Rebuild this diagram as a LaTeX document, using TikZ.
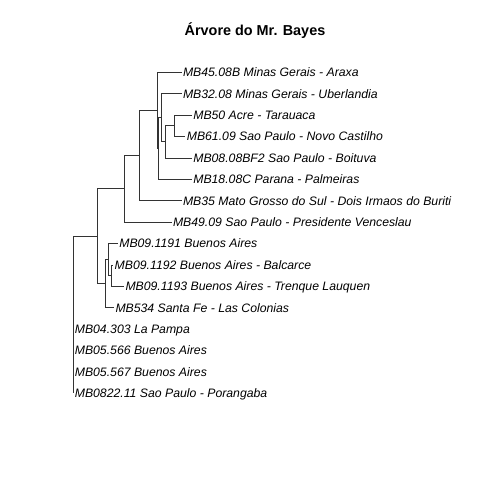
\documentclass[tikz,border=0pt]{standalone}
\usepackage{fontspec}
\setmainfont{Liberation Sans}
\begin{document}
\begin{tikzpicture}[x=1pt,y=-1pt,
  br/.style={draw=black!80,line width=0.75pt},
  lab/.style={anchor=west,inner xsep=1.3pt,inner ysep=0pt,text height=8.7pt,text depth=0pt,font=\fontsize{12.25}{12.25}\selectfont\itshape},
  ttl/.style={anchor=base,inner sep=0pt,font=\fontsize{14.4}{14.4}\selectfont\bfseries}]
\fill[white] (0,0) rectangle (480,480);
\useasboundingbox (0,0) rectangle (480,480);
\node[ttl] (title) at (255,35) {Árvore do Mr. Bayes};
% internal nodes
\coordinate (R)  at (73.3,236.2);
\coordinate (c1) at (97.0,236.2);
\coordinate (D)  at (124.0,188.8);
\coordinate (E)  at (139.3,155.55);
\coordinate (F)  at (157.3,110.4);
\coordinate (F2) at (158.3,148.55);
\coordinate (G)  at (161.6,117.8);
\coordinate (G2) at (165.0,141.85);
\coordinate (H)  at (174.2,125.8);
\coordinate (A)  at (105.3,283.6);
\coordinate (B)  at (108.5,259.55);
\coordinate (C)  at (111.7,275.6);
% tips
\coordinate (t0)  at (181.5,72.3);
\coordinate (t1)  at (181.5,93.7);
\coordinate (t2)  at (191.8,115.1);
\coordinate (t3)  at (185.3,136.5);
\coordinate (t4)  at (191.8,157.9);
\coordinate (t5)  at (191.8,179.3);
\coordinate (t6)  at (181.5,200.7);
\coordinate (t7)  at (171.5,222.1);
\coordinate (t8)  at (117.8,243.5);
\coordinate (t9)  at (113.2,264.9);
\coordinate (t10) at (124.0,286.3);
\coordinate (t11) at (114.0,307.7);
\coordinate (t12) at (73.3,329.1);
\coordinate (t13) at (73.3,350.5);
\coordinate (t14) at (73.3,371.9);
\coordinate (t15) at (73.3,393.3);
% branches
\draw[br] (R) |- (c1);
\draw[br] (R) |- (t12);
\draw[br] (R) |- (t13);
\draw[br] (R) |- (t14);
\draw[br] (R) |- (t15);
\draw[br] (c1) |- (D);
\draw[br] (c1) |- (A);
\draw[br] (D) |- (E);
\draw[br] (D) |- (t7);
\draw[br] (E) |- (F);
\draw[br] (E) |- (t6);
\draw[br] (F) |- (t0);
\draw[br] (F) |- (F2);
\draw[br] (F2) |- (G);
\draw[br] (F2) |- (t5);
\draw[br] (G) |- (t1);
\draw[br] (G) |- (G2);
\draw[br] (G2) |- (H);
\draw[br] (G2) |- (t4);
\draw[br] (H) |- (t2);
\draw[br] (H) |- (t3);
\draw[br] (A) |- (B);
\draw[br] (A) |- (t11);
\draw[br] (B) |- (t8);
\draw[br] (B) |- (C);
\draw[br] (C) |- (t9);
\draw[br] (C) |- (t10);
% labels
\node[lab] (l0)  at (t0)  {MB45.08B Minas Gerais - Araxa};
\node[lab] (l1)  at (t1)  {MB32.08 Minas Gerais - Uberlandia};
\node[lab] (l2)  at (t2)  {MB50 Acre - Tarauaca};
\node[lab] (l3)  at (t3)  {MB61.09 Sao Paulo - Novo Castilho};
\node[lab] (l4)  at (t4)  {MB08.08BF2 Sao Paulo - Boituva};
\node[lab] (l5)  at (t5)  {MB18.08C Parana - Palmeiras};
\node[lab] (l6)  at (t6)  {MB35 Mato Grosso do Sul - Dois Irmaos do Buriti};
\node[lab] (l7)  at (t7)  {MB49.09 Sao Paulo - Presidente Venceslau};
\node[lab] (l8)  at (t8)  {MB09.1191 Buenos Aires};
\node[lab] (l9)  at (t9)  {MB09.1192 Buenos Aires - Balcarce};
\node[lab] (l10) at (t10) {MB09.1193 Buenos Aires - Trenque Lauquen};
\node[lab] (l11) at (t11) {MB534 Santa Fe - Las Colonias};
\node[lab] (l12) at (t12) {MB04.303 La Pampa};
\node[lab] (l13) at (t13) {MB05.566 Buenos Aires};
\node[lab] (l14) at (t14) {MB05.567 Buenos Aires};
\node[lab] (l15) at (t15) {MB0822.11 Sao Paulo - Porangaba};
\end{tikzpicture}
\end{document}
